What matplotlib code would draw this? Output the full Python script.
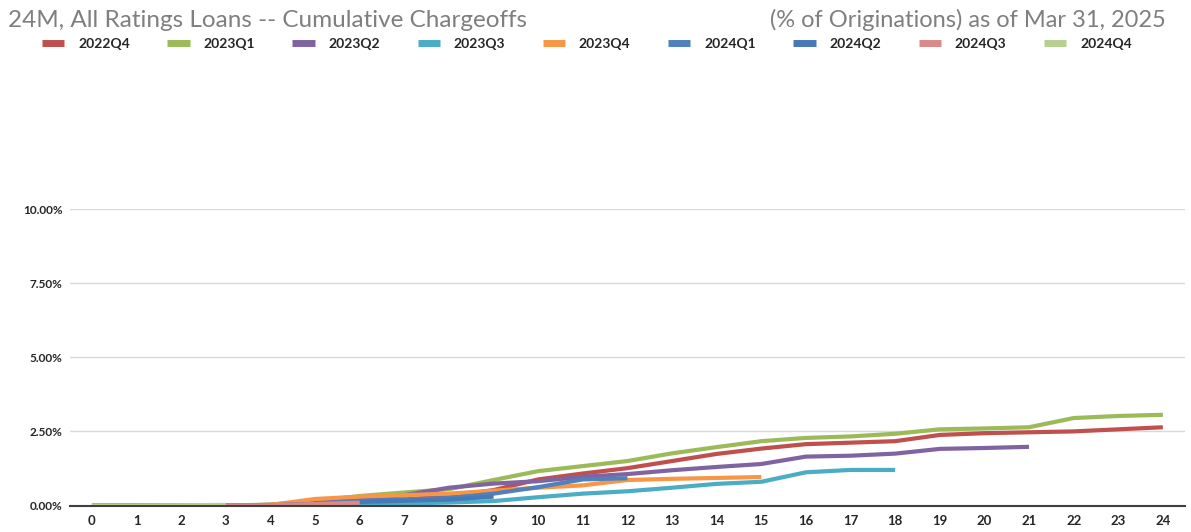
import matplotlib
matplotlib.use("Agg")
import matplotlib.pyplot as plt
from matplotlib.ticker import FuncFormatter

plt.rcParams['font.family'] = ['Lato', 'DejaVu Sans']

months = list(range(25))
series_names = ["2022Q4", "2023Q1", "2023Q2", "2023Q3", "2023Q4",
                "2024Q1", "2024Q2", "2024Q3", "2024Q4"]

q2022_4 = [0, 0, 0, 0, 0.02, 0.05, 0.12, 0.20, 0.32, 0.52, 0.88, 1.08, 1.26,
           1.50, 1.74, 1.92, 2.07, 2.12, 2.17, 2.38, 2.44, 2.47, 2.50, 2.57, 2.64]
q2023_1 = [0, 0, 0, 0, 0.03, 0.15, 0.32, 0.44, 0.55, 0.86, 1.16, 1.33, 1.50,
           1.76, 1.97, 2.17, 2.28, 2.33, 2.42, 2.57, 2.60, 2.64, 2.95, 3.02, 3.06]
q2023_2 = [0, 0, 0, 0, 0.02, 0.08, 0.20, 0.35, 0.60, 0.74, 0.82, 0.97, 1.06,
           1.19, 1.30, 1.40, 1.65, 1.68, 1.75, 1.91, 1.94, 1.98]
q2023_3 = [0, 0, 0, 0, 0, 0.02, 0.04, 0.07, 0.10, 0.15, 0.28, 0.40, 0.48,
           0.60, 0.73, 0.80, 1.12, 1.20, 1.20]
q2023_4 = [0, 0, 0, 0, 0.02, 0.22, 0.30, 0.35, 0.40, 0.50, 0.60, 0.68, 0.86,
           0.90, 0.93, 0.96]
q2024_1 = [0, 0, 0, 0, 0.01, 0.05, 0.15, 0.20, 0.25, 0.40, 0.62, 0.88, 0.92]
q2024_2 = [0, 0, 0, 0, 0.01, 0.04, 0.12, 0.16, 0.20, 0.30]
q2024_3 = [0, 0, 0, 0, 0.01, 0.05, 0.10]
q2024_4 = [0, 0, 0.01, 0.02]

series_values = [q2022_4, q2023_1, q2023_2, q2023_3, q2023_4,
                 q2024_1, q2024_2, q2024_3, q2024_4]
colors = ["#C0504D", "#9BBB59", "#8064A2", "#4BACC6", "#F79646",
          "#4F81BD", "#4679B5", "#D98A87", "#B7D08F"]

y_ticks = [0, 2.5, 5.0, 7.5, 10.0]

fig = plt.figure(figsize=(11.91, 5.32), dpi=100)
ax = fig.add_axes([0.0585, 0.0498, 0.9366, 0.5572])

lines = []
for name, vals, c in zip(series_names, series_values, colors):
    ln, = ax.plot(months[:len(vals)], vals, color=c, lw=3.0,
                  solid_capstyle='butt', solid_joinstyle='round', label=name)
    lines.append(ln)

ax.set_xlim(-0.5, 24.5)
ax.set_ylim(0, 10)
ax.set_xticks(months)
ax.set_xticklabels([str(m) for m in months], fontsize=9.5, fontweight='bold',
                   color='#262626')
ax.set_yticks(y_ticks)
ax.yaxis.set_major_formatter(FuncFormatter(lambda v, p: f"{v:.2f}%"))
for lab in ax.get_yticklabels():
    lab.set_fontsize(8.5)
    lab.set_fontweight('bold')
    lab.set_color('#262626')
ax.tick_params(axis='both', length=0)
ax.tick_params(axis='x', pad=7)
ax.tick_params(axis='y', pad=5)
ax.grid(axis='y', color='#D9D9D9', lw=1.0)
ax.set_axisbelow(True)
for s in ['top', 'right', 'left']:
    ax.spines[s].set_visible(False)
ax.spines['bottom'].set_color('#404040')
ax.spines['bottom'].set_linewidth(1.5)
ax.spines['bottom'].set_zorder(5)

fig.text(0.007, 0.962, "24M, All Ratings Loans -- Cumulative Chargeoffs",
         fontsize=17.5, color='#7F7F7F', ha='left', va='center')
fig.text(0.979, 0.962, "(% of Originations) as of Mar 31, 2025",
         fontsize=17, color='#7F7F7F', ha='right', va='center')

leg = fig.legend(handles=lines, loc='center left', bbox_to_anchor=(0.0306, 0.918),
                 ncol=9, frameon=False, fontsize=10, handlelength=1.6,
                 handletextpad=1.0, columnspacing=2.7, borderaxespad=0)
for t in leg.get_texts():
    t.set_fontweight('bold')
    t.set_color('#262626')
for h in leg.legend_handles:
    h.set_linewidth(5)

fig.savefig("out.png", dpi=100)
